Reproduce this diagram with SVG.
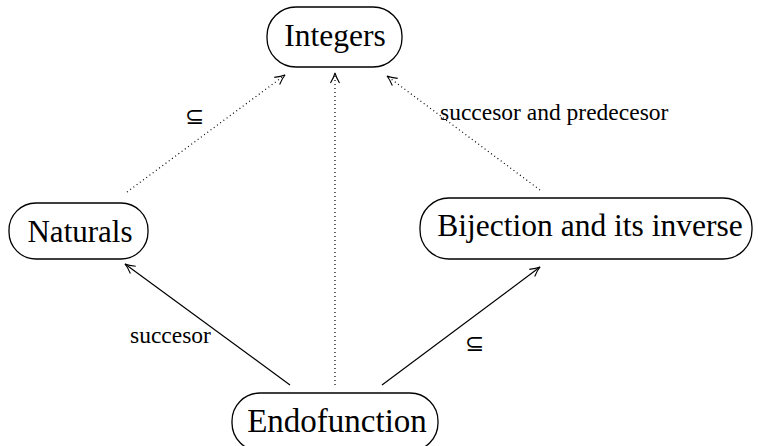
<svg xmlns="http://www.w3.org/2000/svg" width="758" height="446" viewBox="0 0 758 446">
<defs>
<style>
.node rect{fill:#fff;stroke:#000;stroke-width:1.3}
.node text{font-family:"Liberation Serif","Times New Roman",serif;font-size:32px;text-anchor:middle;fill:#000}
.lbl{font-family:"Liberation Serif","Times New Roman",serif;font-size:23.5px;fill:#000}
.sym{font-family:"DejaVu Sans",sans-serif;font-size:23px;fill:#000}
.solid{stroke:#000;stroke-width:1.2;fill:none}
.dot{stroke:#000;stroke-width:1.2;fill:none;stroke-dasharray:1 3}
</style>
<marker id="ah" markerWidth="14" markerHeight="12" refX="0" refY="0" viewBox="-11 -6 14 12" orient="auto" markerUnits="userSpaceOnUse">
<path d="M-10,-4.5 Q-4,-1 0,0 Q-4,1 -10,4.5" fill="none" stroke="#000" stroke-width="1.1"/>
</marker>
</defs>
<g id="connectors">
<line class="dot" x1="127" y1="192" x2="285" y2="75" marker-end="url(#ah)"/>
<line class="dot" x1="335" y1="385" x2="335" y2="73" marker-end="url(#ah)"/>
<line class="dot" x1="540" y1="190" x2="387" y2="76" marker-end="url(#ah)"/>
<line class="solid" x1="290" y1="385" x2="125" y2="264" marker-end="url(#ah)"/>
<line class="solid" x1="382" y1="385" x2="540" y2="267" marker-end="url(#ah)"/>
<text class="sym" x="185" y="124">⊆</text>
<text class="lbl" x="440" y="120">succesor and predecesor</text>
<text class="lbl" x="130" y="343">succesor</text>
<text class="sym" x="465" y="351">⊆</text>
</g>
<g id="integers" class="node">
<rect x="267" y="7" width="135" height="60" rx="29"/>
<text x="335" y="46" style="font-size:31.5px">Integers</text>
</g>
<g id="naturals" class="node">
<rect x="9" y="203" width="139" height="56" rx="27"/>
<text x="80" y="242" style="font-size:31px">Naturals</text>
</g>
<g id="bijection" class="node">
<rect x="420" y="198" width="332" height="61" rx="29"/>
<text x="590" y="236" style="font-size:31.5px">Bijection and its inverse</text>
</g>
<g id="endofunction" class="node">
<rect x="232" y="393" width="206" height="58" rx="28"/>
<text x="337" y="432" style="font-size:33px">Endofunction</text>
</g>
</svg>
